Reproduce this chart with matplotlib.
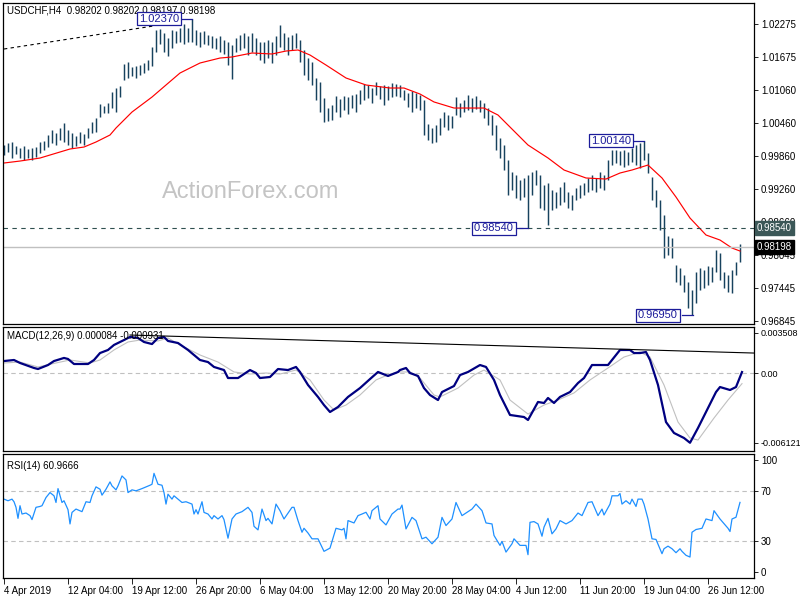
import matplotlib
matplotlib.use("Agg")
import matplotlib.pyplot as plt
import matplotlib.transforms as mtransforms

plt.rcParams['font.family'] = ['Liberation Sans', 'DejaVu Sans']

# USDCHF H4 - one drawn bar per two H4 candles (x = H4 bar number)
bar_high = [
    1.0006, 1.0010, 1.0012, 1.0005, 1.0001, 1.0005, 0.9999, 1.0001, 1.0003, 1.0012,
    1.0014, 1.0025, 1.0034, 1.0028, 1.0037, 1.0047, 1.0034, 1.0028, 1.0023, 1.0030,
    1.0026, 1.0037, 1.0048, 1.0056, 1.0081, 1.0078, 1.0083, 1.0103, 1.0111, 1.0114,
    1.0154, 1.0158, 1.0149, 1.0151, 1.0153, 1.0156, 1.0162, 1.0186, 1.0217, 1.0218,
    1.0211, 1.0202, 1.0217, 1.0215, 1.0220, 1.0228, 1.0220, 1.0237, 1.0217, 1.0213,
    1.0215, 1.0207, 1.0206, 1.0202, 1.0206, 1.0198, 1.0195, 1.0189, 1.0202, 1.0207,
    1.0211, 1.0206, 1.0211, 1.0202, 1.0195, 1.0195, 1.0198, 1.0195, 1.0206, 1.0226,
    1.0211, 1.0204, 1.0207, 1.0211, 1.0198, 1.0180, 1.0165, 1.0158, 1.0129, 1.0122,
    1.0092, 1.0074, 1.0079, 1.0096, 1.0090, 1.0096, 1.0094, 1.0098, 1.0100, 1.0107,
    1.0118, 1.0116, 1.0111, 1.0122, 1.0114, 1.0116, 1.0114, 1.0120, 1.0118, 1.0116,
    1.0107, 1.0101, 1.0105, 1.0101, 1.0098, 1.0089, 1.0045, 1.0037, 1.0043, 1.0056,
    1.0067, 1.0061, 1.0059, 1.0094, 1.0083, 1.0089, 1.0098, 1.0092, 1.0096, 1.0089,
    1.0083, 1.0074, 1.0061, 1.0043, 1.0019, 1.0006, 0.9979, 0.9957, 0.9952, 0.9942,
    0.9946, 0.9952, 0.9957, 0.9961, 0.9952, 0.9933, 0.9937, 0.9924, 0.9920, 0.9930,
    0.9939, 0.9920, 0.9915, 0.9928, 0.9933, 0.9937, 0.9946, 0.9952, 0.9946, 0.9957,
    0.9952, 0.9979, 0.9997, 0.9997, 0.9995, 0.9997, 0.9994, 1.0001, 1.0006, 1.0010,
    1.0014, 0.9992, 0.9948, 0.9924, 0.9906, 0.9878, 0.9840, 0.9836, 0.9787, 0.9781,
    0.9769, 0.9756, 0.9741, 0.9774, 0.9781, 0.9778, 0.9785, 0.9783, 0.9814, 0.9809,
    0.9774, 0.9769, 0.9778, 0.9792, 0.9825,
]
bar_low = [
    0.9988, 0.9994, 0.9983, 0.9990, 0.9983, 0.9979, 0.9983, 0.9979, 0.9984, 0.9992,
    0.9997, 1.0003, 1.0010, 1.0006, 1.0015, 1.0012, 1.0006, 1.0001, 1.0005, 1.0010,
    1.0006, 1.0019, 1.0028, 1.0030, 1.0057, 1.0065, 1.0065, 1.0074, 1.0067, 1.0094,
    1.0125, 1.0129, 1.0133, 1.0129, 1.0134, 1.0138, 1.0143, 1.0151, 1.0176, 1.0191,
    1.0176, 1.0169, 1.0184, 1.0193, 1.0195, 1.0191, 1.0195, 1.0195, 1.0189, 1.0186,
    1.0191, 1.0189, 1.0184, 1.0182, 1.0176, 1.0173, 1.0153, 1.0127, 1.0176, 1.0180,
    1.0184, 1.0171, 1.0176, 1.0171, 1.0162, 1.0156, 1.0165, 1.0156, 1.0171, 1.0186,
    1.0180, 1.0171, 1.0180, 1.0184, 1.0158, 1.0134, 1.0125, 1.0116, 1.0089, 1.0067,
    1.0048, 1.0050, 1.0052, 1.0067, 1.0057, 1.0070, 1.0063, 1.0074, 1.0067, 1.0081,
    1.0089, 1.0092, 1.0083, 1.0098, 1.0090, 1.0079, 1.0089, 1.0094, 1.0096, 1.0094,
    1.0089, 1.0076, 1.0067, 1.0074, 1.0070, 1.0025, 1.0015, 1.0010, 1.0012, 1.0025,
    1.0039, 1.0034, 1.0037, 1.0061, 1.0057, 1.0067, 1.0070, 1.0067, 1.0072, 1.0067,
    1.0056, 1.0043, 1.0025, 0.9997, 0.9983, 0.9961, 0.9915, 0.9924, 0.9909, 0.9906,
    0.9911, 0.9854, 0.9915, 0.9933, 0.9891, 0.9888, 0.9860, 0.9888, 0.9891, 0.9897,
    0.9902, 0.9891, 0.9888, 0.9906, 0.9909, 0.9915, 0.9920, 0.9924, 0.9920, 0.9928,
    0.9924, 0.9942, 0.9970, 0.9973, 0.9970, 0.9966, 0.9970, 0.9975, 0.9970, 0.9964,
    0.9979, 0.9955, 0.9906, 0.9893, 0.9851, 0.9800, 0.9805, 0.9800, 0.9756, 0.9750,
    0.9738, 0.9708, 0.9695, 0.9718, 0.9741, 0.9745, 0.9750, 0.9756, 0.9774, 0.9760,
    0.9745, 0.9738, 0.9736, 0.9769, 0.9792,
]
bar_x = [2 * i for i in range(len(bar_high))]

# moving average (red)
ma_x = [0, 8, 18, 23, 33, 40, 46, 53, 56, 64, 74, 81, 88, 93, 98, 108, 114, 124,
        134, 141, 147, 153, 161, 171, 181, 193, 200, 208, 215, 225, 240, 247, 252,
        262, 272, 280, 291, 301, 308, 314, 322, 329, 336, 343, 351, 358, 364, 368]
ma_val = [0.99734, 0.99770, 0.99825, 0.99880, 0.99990, 1.00026, 1.00118, 1.00246,
          1.00374, 1.00666, 1.00940, 1.01160, 1.01379, 1.01471, 1.01562, 1.01653,
          1.01672, 1.01745, 1.01727, 1.01781, 1.01800, 1.01708, 1.01525, 1.01288,
          1.01160, 1.01105, 1.01105, 1.00995, 1.00850, 1.00739, 1.00739, 1.00611,
          1.00428, 1.00063, 0.99826, 0.99606, 0.99460, 0.99441, 0.99551, 0.99606,
          0.99697, 0.99460, 0.99112, 0.98728, 0.98418, 0.98326, 0.98180, 0.98125]

# MACD(12,26,9)
macd_x = [0, 5, 8, 15, 17, 22, 25, 30, 32, 35, 42, 45, 48, 52, 55, 60, 63, 67, 70,
          74, 77, 80, 82, 87, 92, 98, 102, 105, 110, 112, 117, 120, 123, 126, 128,
          133, 137, 142, 146, 148, 152, 157, 160, 163, 167, 172, 178, 183, 187, 192,
          197, 198, 201, 203, 207, 210, 213, 217, 219, 225, 228, 232, 238, 241, 245,
          248, 253, 260, 262, 267, 270, 272, 275, 278, 283, 287, 290, 294, 302, 308,
          313, 315, 318, 321, 323, 327, 331, 335, 340, 343, 347, 352, 356, 358, 363,
          366, 369]
macd_val = [0.00105, 0.00114, 0.00088, 0.00044, 0.00035, 0.00070, 0.00105, 0.00132,
            0.00123, 0.00079, 0.00079, 0.00114, 0.00175, 0.00202, 0.00246, 0.00289,
            0.00316, 0.00307, 0.00272, 0.00254, 0.00307, 0.00316, 0.00281, 0.00263,
            0.00202, 0.00114, 0.00096, 0.00053, 0.00026, -0.00044, -0.00044, -0.00009,
            0.00026, 0.00000, -0.00044, -0.00035, 0.00035, 0.00026, 0.00053, 0.00009,
            -0.00105, -0.00210, -0.00281, -0.00342, -0.00298, -0.00210, -0.00132,
            -0.00053, 0.00009, -0.00026, 0.00009, 0.00026, 0.00044, 0.00000, -0.00026,
            -0.00132, -0.00193, -0.00237, -0.00167, -0.00114, -0.00018, 0.00009,
            0.00070, 0.00053, -0.00061, -0.00193, -0.00368, -0.00386, -0.00412,
            -0.00254, -0.00263, -0.00219, -0.00263, -0.00210, -0.00167, -0.00088,
            -0.00044, 0.00070, 0.00070, 0.00202, 0.00202, 0.00175, 0.00175, 0.00184,
            0.00114, -0.00105, -0.00430, -0.00526, -0.00570, -0.00612, -0.00482,
            -0.00307, -0.00167, -0.00123, -0.00149, -0.00123, 0.000084]
signal_x = [0, 8, 17, 26, 33, 43, 48, 55, 62, 68, 77, 82, 88, 98, 107, 115, 123,
            131, 138, 146, 153, 160, 165, 171, 178, 186, 193, 198, 203, 208, 215,
            218, 227, 235, 240, 248, 253, 262, 270, 277, 285, 293, 302, 310, 318,
            323, 330, 337, 343, 347, 355, 362, 369]
signal_val = [0.00088, 0.00096, 0.00053, 0.00088, 0.00114, 0.00088, 0.00114, 0.00202,
              0.00272, 0.00289, 0.00281, 0.00307, 0.00246, 0.00158, 0.00096, 0.00009,
              -0.00009, 0.00000, -0.00009, 0.00026, -0.00061, -0.00237, -0.00324,
              -0.00281, -0.00193, -0.00061, -0.00009, 0.00009, 0.00009, -0.00044,
              -0.00193, -0.00210, -0.00132, -0.00018, 0.00026, -0.00061, -0.00237,
              -0.00360, -0.00281, -0.00237, -0.00175, -0.00061, 0.00044, 0.00140,
              0.00184, 0.00140, -0.00105, -0.00430, -0.00570, -0.00588, -0.00395,
              -0.00237, -0.000931]

# RSI(14)
rsi_x = [0, 2, 4, 5, 6, 7, 8, 9, 11, 13, 14, 16, 18, 19, 21, 23, 25, 26, 27, 29,
         30, 32, 33, 34, 36, 39, 41, 43, 44, 46, 48, 49, 51, 53, 54, 56, 57, 59, 61,
         62, 64, 66, 69, 73, 74, 75, 77, 79, 80, 81, 82, 84, 85, 87, 89, 91, 94, 95,
         96, 97, 99, 100, 102, 104, 105, 107, 109, 110, 111, 112, 114, 116, 119, 122,
         124, 125, 127, 129, 131, 132, 134, 136, 138, 140, 144, 145, 147, 149, 150,
         152, 154, 157, 160, 163, 164, 166, 169, 170, 171, 172, 175, 177, 179, 181,
         183, 184, 187, 188, 191, 194, 197, 198, 199, 201, 204, 206, 209, 211, 214,
         217, 219, 221, 224, 226, 229, 234, 236, 239, 241, 244, 245, 248, 249, 251,
         254, 255, 258, 261, 262, 263, 265, 267, 269, 270, 272, 274, 276, 278, 281,
         284, 287, 289, 292, 294, 297, 299, 300, 303, 304, 307, 308, 309, 311, 313,
         314, 316, 317, 319, 320, 322, 324, 326, 329, 330, 332, 334, 336, 338, 339,
         341, 343, 344, 346, 349, 351, 354, 355, 358, 362, 363, 364, 366, 368]
rsi_val = [63.6, 62.3, 63.6, 61.5, 57.0, 48.1, 58.3, 51.6, 52.4, 50.3, 47.1, 57.0,
           57.7, 58.3, 64.9, 68.9, 66.3, 60.9, 72.1, 60.9, 62.3, 55.1, 43.6, 52.9,
           55.6, 53.5, 61.5, 60.9, 66.3, 73.5, 71.6, 66.8, 71.6, 77.5, 74.3, 71.1,
           74.3, 82.3, 79.1, 68.9, 71.1, 70.3, 72.1, 74.8, 75.6, 84.4, 75.6, 74.8,
           68.9, 59.6, 67.6, 63.6, 66.3, 63.6, 60.9, 61.5, 59.6, 51.6, 55.1, 51.6,
           61.5, 52.9, 51.6, 47.6, 50.3, 47.6, 50.3, 47.1, 39.6, 32.1, 47.6, 51.6,
           53.5, 57.0, 52.9, 41.7, 38.8, 55.6, 46.3, 48.1, 43.6, 59.6, 54.3, 47.6,
           57.0, 57.0, 46.3, 36.9, 40.1, 36.3, 31.6, 31.6, 21.5, 24.1, 29.5, 40.1,
           38.8, 40.1, 31.6, 46.3, 44.4, 50.3, 51.6, 53.0, 47.6, 54.3, 58.3, 47.6,
           42.8, 51.6, 55.6, 55.6, 58.8, 39.6, 48.9, 46.3, 31.6, 32.9, 27.6, 32.9,
           48.9, 42.3, 47.6, 60.9, 50.3, 55.6, 59.6, 54.3, 44.4, 43.6, 34.3, 26.3,
           29.5, 20.9, 27.6, 31.6, 26.3, 26.3, 18.8, 44.9, 45.5, 43.6, 33.7, 41.0,
           48.1, 35.6, 39.6, 46.3, 43.6, 46.3, 52.4, 50.3, 60.9, 61.5, 50.3, 55.6,
           50.8, 59.6, 66.3, 66.3, 68.1, 59.6, 62.3, 59.6, 63.6, 57.7, 63.6, 63.6,
           59.6, 47.6, 31.6, 31.1, 19.6, 23.6, 25.7, 23.6, 20.4, 23.6, 21.5, 18.3,
           16.9, 36.9, 39.1, 40.1, 47.6, 46.3, 54.3, 47.6, 40.1, 37.5, 47.6, 49.0,
           60.97]

price_ticks = [1.02275, 1.01675, 1.01060, 1.00460, 0.99860, 0.99260, 0.98660,
               0.98045, 0.97445, 0.96845]
time_pos = [0, 32, 64, 96, 128, 160, 192, 224, 256, 288, 320, 352]
time_labels = ["4 Apr 2019", "12 Apr 04:00", "19 Apr 12:00", "26 Apr 20:00",
               "6 May 04:00", "13 May 12:00", "20 May 20:00", "28 May 04:00",
               "4 Jun 12:00", "11 Jun 20:00", "19 Jun 04:00", "26 Jun 12:00"]

BAR = '#17425e'
NAVY = '#1c1c9a'

fig = plt.figure(figsize=(8, 6), dpi=100)
L, W = 3 / 800, 751 / 800
ax = fig.add_axes([L, 276 / 600, W, 321 / 600])
axm = fig.add_axes([L, 149 / 600, W, 124 / 600])
axr = fig.add_axes([L, 22 / 600, W, 124 / 600])

for a in (ax, axm, axr):
    a.set_xlim(-0.5, 375)
    for s in a.spines.values():
        s.set_color('black')
        s.set_linewidth(0.9)
    a.yaxis.tick_right()
    a.tick_params(axis='y', length=3, width=0.6, pad=2, labelsize=7, colors='black')
    a.tick_params(axis='x', bottom=False, labelbottom=False)

# ---- price panel
ax.set_ylim(0.96791, 1.02659)
ax.vlines(bar_x, bar_low, bar_high, color=BAR, lw=1.05)
ax.plot(ma_x, ma_val, color='#ff0000', lw=0.85)
ax.plot([0, 75], [1.01818, 1.0224], color='black', lw=0.8, ls=(0, (3, 3)))
ax.axhline(0.98540, color='#2f4f4f', lw=0.8, ls=(0, (4, 4)))
ax.axhline(0.98198, color='#c0c0c0', lw=1.0)
ax.set_yticks(price_ticks)
ax.set_yticklabels([f"{v:.5f}" for v in price_ticks])

ax.text(0.0053, 0.978, "USDCHF,H4  0.98202 0.98202 0.98197 0.98198",
        transform=ax.transAxes, fontsize=7, va='center', ha='left')
ax.text(0.330, 0.411, "ActionForex.com", transform=ax.transAxes,
        fontsize=17, color='#c4c4c4', ha='center', va='center')

box = dict(boxstyle='square,pad=0.15', fc='white', ec=NAVY, lw=0.9)
for tx, ty, lx0, lx1, lbl in [(67.5, 1.02370, 89, 94, "1.02370"),
                              (293.5, 1.00140, 315, 320, "1.00140"),
                              (235, 0.98540, 256.5, 262, "0.98540"),
                              (317, 0.96950, 339, 344.5, "0.96950")]:
    ax.text(tx, ty, lbl, fontsize=8, color=NAVY, va='center', ha='left', bbox=box)
    ax.plot([lx0, lx1], [ty, ty], color=NAVY, lw=0.9)

tr = mtransforms.blended_transform_factory(ax.transAxes, ax.transData)
ax.text(1.004, 0.98540, "0.98540", transform=tr, fontsize=7, color='white',
        va='center', ha='left', zorder=5,
        bbox=dict(boxstyle='square,pad=0.2', fc='#3b5757', ec='#3b5757'))
ax.text(1.004, 0.98198, "0.98198", transform=tr, fontsize=7, color='white',
        va='center', ha='left', zorder=5,
        bbox=dict(boxstyle='square,pad=0.2', fc='black', ec='black'))

# ---- MACD panel
axm.set_ylim(-0.00684, 0.004034)
axm.axhline(0, color='#c0c0c0', lw=0.8, ls=(0, (4, 3)))
axm.plot(signal_x, signal_val, color='#c0c0c0', lw=0.8)
axm.plot(macd_x, macd_val, color='#000080', lw=1.6)
axm.plot([63, 375], [0.00333, 0.00175], color='black', lw=0.8)
axm.set_yticks([0.003508, 0.0, -0.006121])
axm.set_yticklabels(["0.003508", "0.00", "-0.006121"])
axm.tick_params(axis='y', labelsize=6.5)
axm.text(0.0053, 0.93, "MACD(12,26,9) 0.000084 -0.000931", transform=axm.transAxes,
         fontsize=7, va='center', ha='left')

# ---- RSI panel
axr.set_ylim(0, 100)
for lvl in (70, 30):
    axr.axhline(lvl, color='#c0c0c0', lw=0.8, ls=(0, (4, 3)))
axr.plot(rsi_x, rsi_val, color='#1e90ff', lw=0.9)
axr.set_yticks([95, 70, 30, 4.5])
axr.set_yticklabels(["100", "70", "30", "0"])
axr.text(0.0053, 0.9, "RSI(14) 60.9666", transform=axr.transAxes,
         fontsize=7, va='center', ha='left')
axr.tick_params(axis='x', bottom=True, labelbottom=True, length=4, width=0.6,
                pad=2, labelsize=7)
axr.set_xticks(time_pos)
axr.set_xticklabels(time_labels)
for t in axr.get_xticklabels():
    t.set_ha('left')

fig.savefig("out.png", dpi=100, facecolor='white')
